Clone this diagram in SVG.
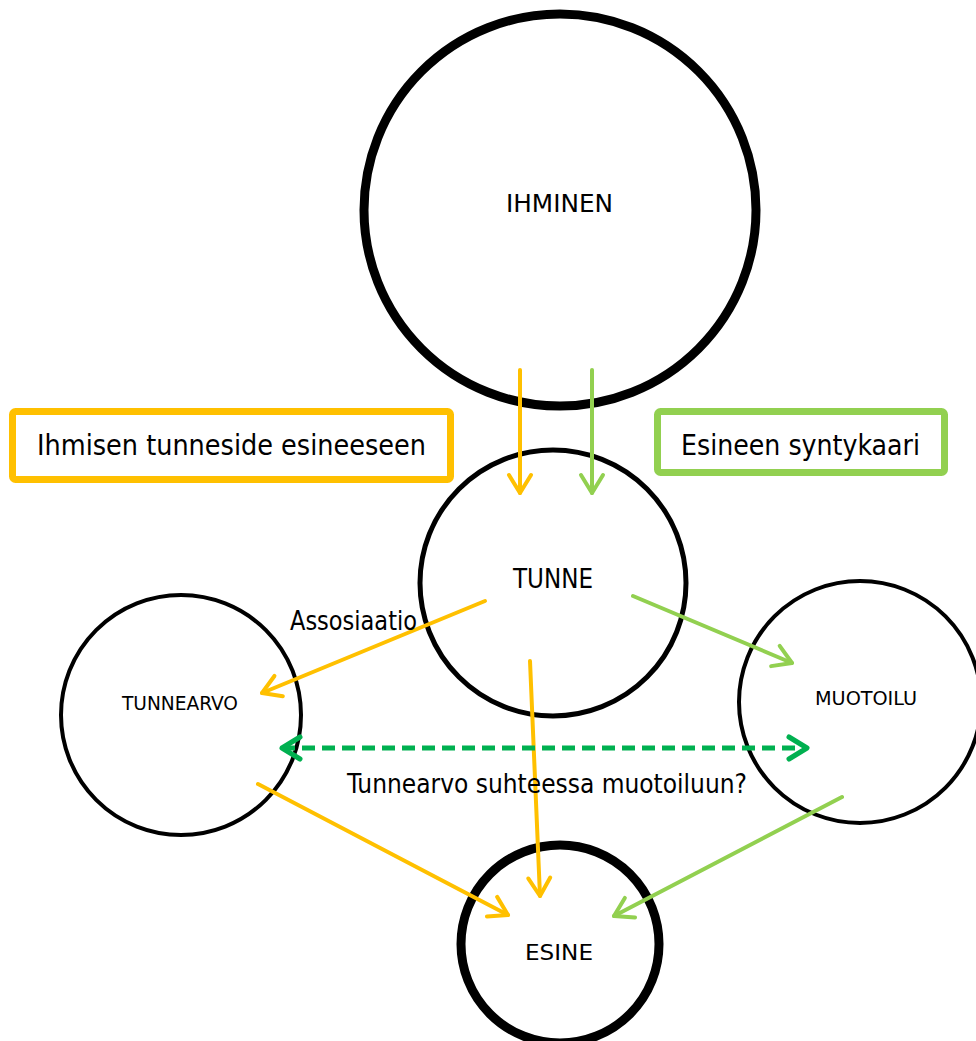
<svg xmlns="http://www.w3.org/2000/svg" width="976" height="1041" viewBox="0 0 976 1041">
<style>
.node{fill:#fff;stroke:#000}
.lbl{font-family:"DejaVu Sans Condensed","DejaVu Sans",sans-serif;fill:#000;text-anchor:start}
.y{stroke:#FFC000;stroke-width:4;fill:none;stroke-linecap:round}
.g{stroke:#92D050;stroke-width:4;fill:none;stroke-linecap:round}
.d{stroke:#00B050;stroke-width:5;fill:none;stroke-dasharray:13 7}
</style>
<defs>
<marker id="ay" markerUnits="userSpaceOnUse" markerWidth="30" markerHeight="30" refX="20" refY="12" orient="auto" overflow="visible"><path d="M2,1 L20,12 L2,23" fill="none" stroke="#FFC000" stroke-width="4" stroke-linecap="round" stroke-linejoin="round"/></marker>
<marker id="ag" markerUnits="userSpaceOnUse" markerWidth="30" markerHeight="30" refX="20" refY="12" orient="auto" overflow="visible"><path d="M2,1 L20,12 L2,23" fill="none" stroke="#92D050" stroke-width="4" stroke-linecap="round" stroke-linejoin="round"/></marker>
<marker id="ad" markerUnits="userSpaceOnUse" markerWidth="30" markerHeight="30" refX="20" refY="12" orient="auto-start-reverse" overflow="visible"><path d="M2,1 L20,12 L2,23" fill="none" stroke="#00B050" stroke-width="5" stroke-linecap="round" stroke-linejoin="round"/></marker>
</defs>
<rect width="976" height="1041" fill="#fff"/>
<g id="ihminen"><circle class="node" cx="560" cy="210" r="196" stroke-width="9"/><text class="lbl" x="506" y="212" font-size="24" textLength="107" lengthAdjust="spacingAndGlyphs">IHMINEN</text></g>
<g id="tunne"><circle class="node" cx="553" cy="583" r="133" stroke-width="5"/><text class="lbl" x="513" y="588" font-size="26" textLength="80" lengthAdjust="spacingAndGlyphs">TUNNE</text></g>
<g id="tunnearvo"><circle class="node" cx="181" cy="715" r="120" stroke-width="4"/><text class="lbl" x="122" y="710" font-size="20" textLength="116" lengthAdjust="spacingAndGlyphs">TUNNEARVO</text></g>
<g id="muotoilu"><circle class="node" cx="860" cy="702" r="121" stroke-width="4"/><text class="lbl" x="815" y="705" font-size="20" textLength="102" lengthAdjust="spacingAndGlyphs">MUOTOILU</text></g>
<g id="esine"><circle class="node" cx="560" cy="944" r="99" stroke-width="9"/><text class="lbl" x="525" y="960" font-size="22" textLength="68" lengthAdjust="spacingAndGlyphs">ESINE</text></g>
<g id="box-tunneside"><rect x="12.5" y="411.5" width="438" height="68" rx="3" fill="#fff" stroke="#FFC000" stroke-width="7"/><text class="lbl" x="37" y="455" font-size="29" textLength="389" lengthAdjust="spacingAndGlyphs">Ihmisen tunneside esineeseen</text></g>
<g id="box-syntykaari"><rect x="657.5" y="411.5" width="287" height="61" rx="3" fill="#fff" stroke="#92D050" stroke-width="7"/><text class="lbl" x="681" y="455" font-size="29" textLength="239" lengthAdjust="spacingAndGlyphs">Esineen syntykaari</text></g>
<g id="connectors">
<line class="y" x1="520" y1="370" x2="520" y2="493" marker-end="url(#ay)"/>
<line class="g" x1="592" y1="370" x2="592" y2="493" marker-end="url(#ag)"/>
<line class="y" x1="485" y1="601" x2="262" y2="693" marker-end="url(#ay)"/>
<line class="g" x1="633" y1="596" x2="792" y2="663" marker-end="url(#ag)"/>
<line class="y" x1="530" y1="661" x2="540" y2="896" marker-end="url(#ay)"/>
<line class="y" x1="258" y1="784" x2="508" y2="915" marker-end="url(#ay)"/>
<line class="g" x1="842" y1="797" x2="614" y2="916" marker-end="url(#ag)"/>
<line class="d" x1="282" y1="748" x2="807" y2="748" marker-start="url(#ad)" marker-end="url(#ad)"/>
</g>
<text class="lbl" x="290" y="630" font-size="26" textLength="127" lengthAdjust="spacingAndGlyphs">Assosiaatio</text>
<text class="lbl" x="347" y="793" font-size="26" textLength="400" lengthAdjust="spacingAndGlyphs">Tunnearvo suhteessa muotoiluun?</text>
</svg>
